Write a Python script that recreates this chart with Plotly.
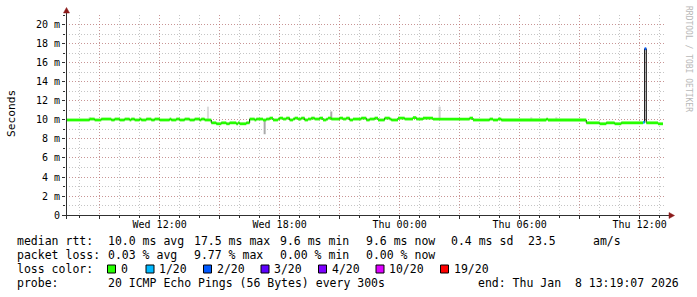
import plotly.graph_objects as go

# ---------------- data ----------------
x_start = "2026-01-07 07:19:07"
x_end = "2026-01-08 13:19:07"

# median rtt (ms), step start times, loss count (of 20)
med_time = [
    "2026-01-07 07:15", "2026-01-07 08:30", "2026-01-07 08:45", "2026-01-07 09:05", "2026-01-07 09:35",
    "2026-01-07 09:45", "2026-01-07 10:00", "2026-01-07 10:15", "2026-01-07 10:30", "2026-01-07 10:35",
    "2026-01-07 10:45", "2026-01-07 11:00", "2026-01-07 11:05", "2026-01-07 11:20", "2026-01-07 11:35",
    "2026-01-07 11:45", "2026-01-07 12:00", "2026-01-07 12:30", "2026-01-07 12:35", "2026-01-07 12:50",
    "2026-01-07 13:00", "2026-01-07 13:15", "2026-01-07 13:30", "2026-01-07 13:45", "2026-01-07 14:00",
    "2026-01-07 14:05", "2026-01-07 14:15", "2026-01-07 14:35", "2026-01-07 14:50", "2026-01-07 15:05",
    "2026-01-07 15:20", "2026-01-07 15:30", "2026-01-07 15:50", "2026-01-07 15:55", "2026-01-07 16:00",
    "2026-01-07 16:20", "2026-01-07 16:30", "2026-01-07 16:45", "2026-01-07 16:50", "2026-01-07 17:10",
    "2026-01-07 17:20", "2026-01-07 17:30", "2026-01-07 17:40", "2026-01-07 17:55", "2026-01-07 18:00",
    "2026-01-07 18:10", "2026-01-07 18:20", "2026-01-07 18:30", "2026-01-07 18:40", "2026-01-07 18:45",
    "2026-01-07 18:55", "2026-01-07 19:05", "2026-01-07 19:15", "2026-01-07 19:25", "2026-01-07 19:35",
    "2026-01-07 19:45", "2026-01-07 20:00", "2026-01-07 20:10", "2026-01-07 20:20", "2026-01-07 20:25",
    "2026-01-07 20:35", "2026-01-07 21:00", "2026-01-07 21:10", "2026-01-07 21:20", "2026-01-07 21:30",
    "2026-01-07 21:40", "2026-01-07 22:05", "2026-01-07 22:20", "2026-01-07 22:30", "2026-01-07 22:45",
    "2026-01-07 22:55", "2026-01-07 23:15", "2026-01-07 23:30", "2026-01-07 23:35", "2026-01-07 23:55",
    "2026-01-08 00:15", "2026-01-08 00:40", "2026-01-08 00:50", "2026-01-08 01:10", "2026-01-08 01:40",
    "2026-01-08 03:30", "2026-01-08 03:40", "2026-01-08 04:30", "2026-01-08 04:40", "2026-01-08 04:55",
    "2026-01-08 05:05", "2026-01-08 07:20", "2026-01-08 07:25", "2026-01-08 09:20", "2026-01-08 10:00",
    "2026-01-08 10:20", "2026-01-08 10:45", "2026-01-08 11:05", "2026-01-08 12:10", "2026-01-08 12:15",
    "2026-01-08 12:20", "2026-01-08 12:55",
]
med_ms = [
    10.0, 10.1, 10.0, 10.1, 10.0,
    10.1, 10.0, 10.1, 10.0, 10.1,
    10.0, 10.1, 10.0, 10.1, 10.0,
    10.1, 10.0, 10.1, 10.0, 10.1,
    10.0, 10.1, 10.0, 10.1, 10.0,
    10.1, 10.0, 9.7, 9.6, 9.7,
    9.6, 9.7, 9.6, 9.7, 9.6,
    9.7, 10.1, 10.0, 10.1, 10.0,
    10.1, 10.2, 10.0, 10.1, 10.2,
    10.1, 10.2, 10.0, 10.1, 10.2,
    10.1, 10.2, 10.0, 10.1, 10.2,
    10.1, 10.2, 10.0, 10.1, 10.2,
    10.1, 10.2, 10.1, 10.2, 10.0,
    10.1, 10.2, 10.0, 10.1, 10.2,
    10.0, 10.2, 10.1, 10.0, 10.2,
    10.1, 10.25, 10.1, 10.2, 10.1,
    10.2, 10.0, 10.1, 10.0, 10.1,
    10.0, 10.1, 10.0, 9.7, 9.6,
    9.7, 9.6, 9.7, 9.75, 17.5,
    9.7, 9.6,
]
med_loss = [0] * 93 + [1, 2, 0, 0]
med_last_end = "2026-01-08 13:10"

# smoke (spread of the individual pings), ms
smoke_time = ["2026-01-07 08:30", "2026-01-07 14:25", "2026-01-07 17:15", "2026-01-07 20:35",
              "2026-01-08 02:00", "2026-01-08 06:35", "2026-01-08 07:50"]
smoke_lo = [10.05, 10.05, 8.5, 10.1, 10.2, 10.1, 10.1]
smoke_hi = [10.3, 11.4, 10.0, 10.9, 11.4, 10.3, 10.3]
smoke_pings = [1, 1, 3, 3, 2, 1, 1]

loss_levels = [0, 1, 2, 3, 4, 10, 19]
loss_labels = ["0", "1/20", "2/20", "3/20", "4/20", "10/20", "19/20"]

y_tick_vals = [0, 2, 4, 6, 8, 10, 12, 14, 16, 18, 20]
y_tick_text = ["0", "2 m", "4 m", "6 m", "8 m", "10 m", "12 m", "14 m", "16 m", "18 m", "20 m"]
x_tick_times = ["2026-01-07 09:00", "2026-01-07 12:00", "2026-01-07 15:00", "2026-01-07 18:00",
                "2026-01-07 21:00", "2026-01-08 00:00", "2026-01-08 03:00", "2026-01-08 06:00",
                "2026-01-08 09:00", "2026-01-08 12:00"]
x_tick_text = ["", "Wed 12:00", "", "Wed 18:00", "", "Thu 00:00", "", "Thu 06:00", "", "Thu 12:00"]

legend_rows = [
    ["median rtt:", "10.0 ms avg", "17.5 ms max", "9.6 ms min", "9.6 ms now", "0.4 ms sd", "23.5", "am/s"],
    ["packet loss:", "0.03 % avg", "9.77 % max", "0.00 % min", "0.00 % now"],
]
probe_text = "20 ICMP Echo Pings (56 Bytes) every 300s"
end_text = "end: Thu Jan  8 13:19:07 2026"

# ---------------- style ----------------
W, H = 697, 297
ML, MR, MT, MB = 66, 31, 15, 82
PW, PH = W - ML - MR, H - MT - MB
FONT = "DejaVu Sans Mono"
loss_colors = ["#26ff00", "#00b8ff", "#0059ff", "#5e00ff", "#7e00ff", "#dd00ff", "#ff0000"]
smoke_shades = {1: "#dcdcdc", 2: "#cccccc", 3: "#aaaaaa"}
GRID = "rgba(150,150,150,0.55)"
MGRID = "rgba(205,90,90,0.45)"
AXIS = "#303030"
ARROW = "#8b1a1a"


def px(x):
    return (x - ML) / PW


def py(y):
    return (H - MB - y) / PH


def loss_color(n):
    idx = 0
    for i, lv in enumerate(loss_levels):
        if n >= lv:
            idx = i
    return loss_colors[idx]


fig = go.Figure()

# smoke
fig.add_trace(go.Bar(
    x=smoke_time, base=smoke_lo, y=[h - l for h, l in zip(smoke_hi, smoke_lo)],
    width=6 * 60 * 1000, marker=dict(color=[smoke_shades[p] for p in smoke_pings], line=dict(width=0)),
    hoverinfo="skip"))

# black median line
fig.add_trace(go.Scatter(
    x=med_time + [med_last_end], y=med_ms + [med_ms[-1]], mode="lines",
    line=dict(color="#000000", width=1, shape="hv"), hoverinfo="skip"))

# coloured median band by loss
ends = med_time[1:] + [med_last_end]
for lv in sorted(set(med_loss)):
    xs, ys = [], []
    for t0, t1, v, l in zip(med_time, ends, med_ms, med_loss):
        if l == lv:
            xs += [t0, t1, None]
            ys += [v, v, None]
    fig.add_trace(go.Scatter(x=xs, y=ys, mode="lines", connectgaps=False,
                             line=dict(color=loss_color(lv), width=2.8), hoverinfo="skip"))

# axes
fig.add_shape(type="line", xref="paper", yref="paper", x0=px(66.5), x1=px(66.5), y0=py(219), y1=py(12),
              line=dict(color=AXIS, width=1), layer="above")
fig.add_shape(type="line", xref="paper", yref="paper", x0=px(62), x1=px(670), y0=py(215.5), y1=py(215.5),
              line=dict(color=AXIS, width=1), layer="above")
# arrows
fig.add_shape(type="path", xref="paper", yref="paper",
              path=f"M {px(63.5)} {py(13)} L {px(69.5)} {py(13)} L {px(66.5)} {py(7.5)} Z",
              fillcolor=ARROW, line=dict(color=ARROW, width=0.5), layer="above")
fig.add_shape(type="path", xref="paper", yref="paper",
              path=f"M {px(669)} {py(212.5)} L {px(669)} {py(218.5)} L {px(674.5)} {py(215.5)} Z",
              fillcolor=ARROW, line=dict(color=ARROW, width=0.5), layer="above")

ann = []
LF = 11.5
row_y = [241, 255, 269, 283]
col_x = [16, 107, 193, 279, 365, 450, 527, 592]
for r, items in enumerate(legend_rows):
    for c, txt in enumerate(items):
        ann.append(dict(x=px(col_x[c]), y=py(row_y[r]), text=txt))
ann.append(dict(x=px(16), y=py(row_y[2]), text="loss color:"))
box_x = [107.5, 146, 203.5, 261, 318.5, 376, 440.5]
for bx, lab, col in zip(box_x, loss_labels, loss_colors):
    fig.add_shape(type="rect", xref="paper", yref="paper", x0=px(bx), x1=px(bx + 8),
                  y0=py(row_y[2] - 4), y1=py(row_y[2] + 4),
                  fillcolor=col, line=dict(color="#000000", width=1))
    ann.append(dict(x=px(bx + 12), y=py(row_y[2]), text=lab))
ann.append(dict(x=px(16), y=py(row_y[3]), text="probe:"))
ann.append(dict(x=px(107), y=py(row_y[3]), text=probe_text))

annotations = []
for a in ann:
    annotations.append(dict(xref="paper", yref="paper", xanchor="left", yanchor="middle", showarrow=False,
                            borderpad=0, font=dict(family=FONT, size=LF, color="#000000"), **a))
annotations.append(dict(xref="paper", yref="paper", x=px(680), y=py(row_y[3]), xanchor="right", yanchor="middle",
                        showarrow=False, borderpad=0, text=end_text,
                        font=dict(family=FONT, size=LF, color="#000000")))
annotations.append(dict(xref="paper", yref="paper", x=px(11), y=py(114), xanchor="center", yanchor="middle",
                        showarrow=False, text="Seconds", textangle=-90,
                        font=dict(family=FONT, size=11.2, color="#000000")))
annotations.append(dict(xref="paper", yref="paper", x=px(688), y=py(59), xanchor="center", yanchor="middle",
                        showarrow=False, text="RRDTOOL / TOBI OETIKER", textangle=90,
                        font=dict(family=FONT, size=8, color="#b8b8b8")))

fig.update_layout(
    width=W, height=H, margin=dict(l=ML, r=MR, t=MT, b=MB, autoexpand=False),
    paper_bgcolor="#ffffff", plot_bgcolor="#ffffff", showlegend=False, barmode="overlay",
    font=dict(family=FONT, color="#000000"),
    annotations=annotations,
    xaxis=dict(type="date", range=[x_start, x_end], tickmode="array", tickvals=x_tick_times,
               ticktext=x_tick_text, showgrid=True, gridcolor=MGRID, griddash="1px,2px", gridwidth=1,
               ticks="outside", ticklen=3, tickcolor=AXIS, tickfont=dict(family=FONT, size=10, color="#000"),
               ticklabelstandoff=-3,
               showline=False, zeroline=False, fixedrange=True,
               minor=dict(dtick=3600000, tick0="2026-01-07 00:00:00", showgrid=True, gridcolor=GRID,
                          griddash="1px,2px", ticks="outside", ticklen=2, tickcolor=AXIS)),
    yaxis=dict(range=[0, 21.05], tickmode="array", tickvals=y_tick_vals, ticktext=y_tick_text,
               showgrid=True, gridcolor=MGRID, griddash="1px,2px", gridwidth=1,
               ticks="outside", ticklen=3, tickcolor=AXIS, tickfont=dict(family=FONT, size=10, color="#000"),
               showline=False, zeroline=False, fixedrange=True,
               minor=dict(dtick=1, tick0=0, showgrid=True, gridcolor=GRID, griddash="1px,2px",
                          ticks="outside", ticklen=2, tickcolor=AXIS)),
)

fig.write_html("out.html")
